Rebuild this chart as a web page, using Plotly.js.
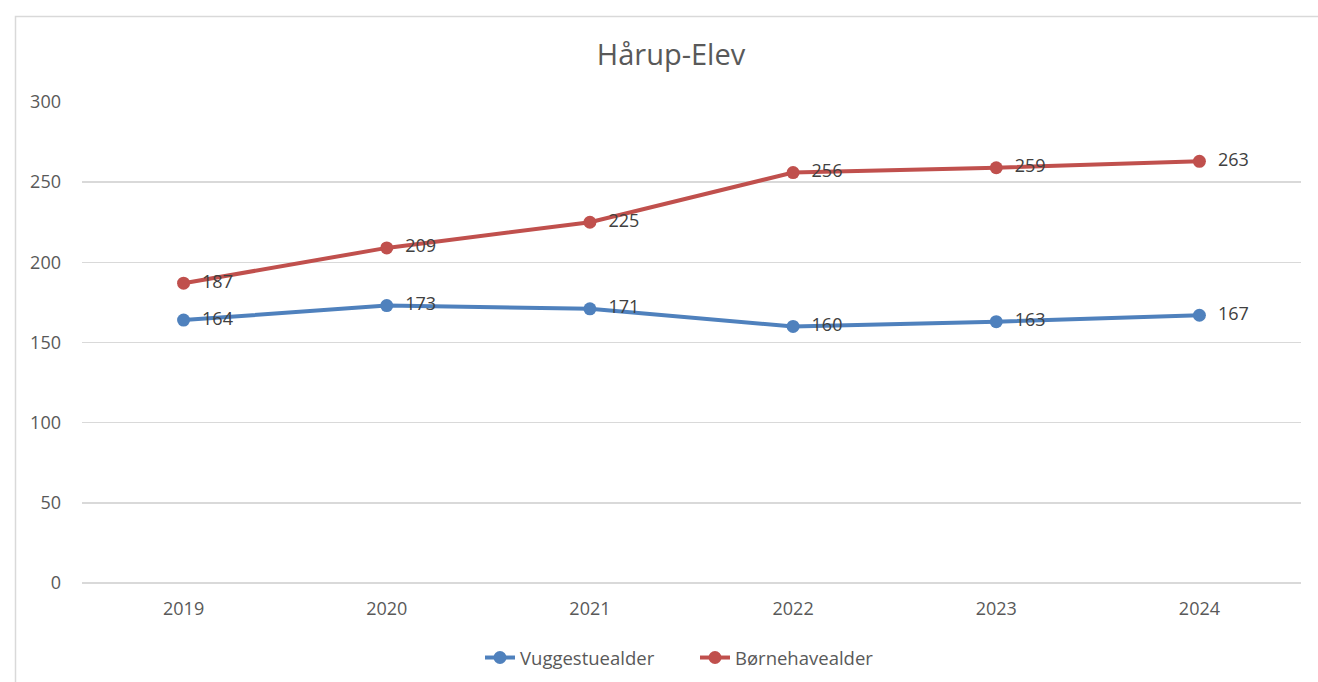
<!DOCTYPE html>
<html>
<head>
<meta charset="utf-8">
<script src="https://cdn.plot.ly/plotly-3.0.1.min.js"></script>
<style>html,body{margin:0;padding:0;background:#fff;}#chart{width:1318px;height:682px;}</style>
</head>
<body>
<div id="chart"></div>
<script>
const years = ["2019", "2020", "2021", "2022", "2023", "2024"];
const vuggestuealder = [164, 173, 171, 160, 163, 167];
const boernehavealder = [187, 209, 225, 256, 259, 263];
const seriesNames = ["Vuggestuealder", "Børnehavealder"];
const yTicks = [0, 50, 100, 150, 200, 250, 300];

const FONT = "Open Sans, Liberation Sans, sans-serif";

function series(name, vals, color) {
  return {
    type: "scatter",
    mode: "lines+markers+text",
    name: name,
    x: years,
    y: vals,
    text: vals.map(v => "\u00a0\u00a0" + v),
    textposition: "middle right",
    textfont: {family: FONT, size: 18, color: "#404040"},
    line: {color: color, width: 4},
    marker: {color: color, size: 13},
    cliponaxis: false,
    hoverinfo: "x+y+name"
  };
}

const data = [
  series(seriesNames[0], vuggestuealder, "#4F81BD"),
  series(seriesNames[1], boernehavealder, "#C0504D")
];

const layout = {
  width: 1318,
  height: 682,
  margin: {l: 82, r: 17, t: 102, b: 99, autoexpand: false},
  paper_bgcolor: "#ffffff",
  plot_bgcolor: "#ffffff",
  font: {family: FONT, color: "#595959", size: 18},
  title: {
    text: "Hårup-Elev",
    font: {family: FONT, size: 29, color: "#595959"},
    xref: "container",
    x: 671 / 1318, xanchor: "center",
    y: 1 - 55 / 682, yanchor: "middle", yref: "container"
  },
  xaxis: {
    type: "category",
    range: [-0.5, 5.5],
    showgrid: false,
    zeroline: false,
    showline: false,
    ticks: "",
    ticklabelstandoff: 13,
    tickfont: {family: FONT, size: 18, color: "#595959"},
    fixedrange: true
  },
  yaxis: {
    range: [0, 300],
    tickvals: yTicks,
    ticktext: yTicks.map(String),
    showgrid: true,
    gridcolor: "#D9D9D9",
    gridwidth: 1.5,
    zeroline: true,
    zerolinecolor: "#D9D9D9",
    zerolinewidth: 1.5,
    showline: false,
    ticks: "",
    ticklabelstandoff: 20,
    tickfont: {family: FONT, size: 18, color: "#595959"},
    fixedrange: true
  },
  showlegend: true,
  legend: {
    orientation: "h",
    x: (480 - 82) / 1219,
    xanchor: "left",
    yref: "container",
    y: 1 - 658 / 682,
    yanchor: "middle",
    font: {family: FONT, size: 18.5, color: "#595959"},
    bgcolor: "rgba(0,0,0,0)",
    itemwidth: 30,
    entrywidth: 170,
    tracegroupgap: 0
  },
  shapes: [{
    type: "rect",
    xref: "paper", yref: "paper",
    x0: (15.5 - 82) / 1219,
    x1: (1330 - 82) / 1219,
    y0: (583 - 700) / 481,
    y1: (583 - 16.5) / 481,
    line: {color: "#D9D9D9", width: 1.5},
    fillcolor: "rgba(0,0,0,0)",
    layer: "below"
  }]
};

Plotly.newPlot("chart", data, layout, {displayModeBar: false, staticPlot: true});
</script>
</body>
</html>
